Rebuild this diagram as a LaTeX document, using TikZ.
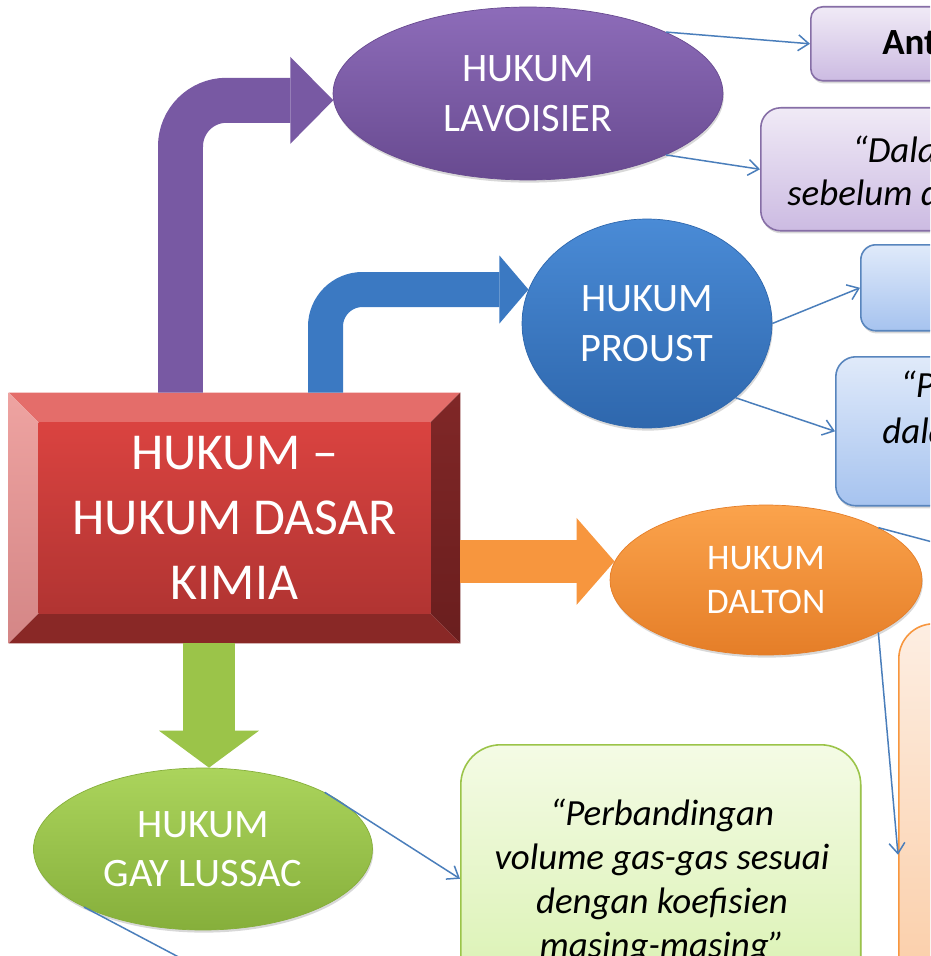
\documentclass[tikz,border=0pt]{standalone}
\usepackage{fontspec}
\setmainfont{Carlito}
\usetikzlibrary{shapes.geometric,arrows.meta,calc,backgrounds,shadows}

\definecolor{unguA}{HTML}{8D6CB9}
\definecolor{unguB}{HTML}{684A90}
\definecolor{ungu}{HTML}{7859A3}
\definecolor{biruA}{HTML}{4A8BD6}
\definecolor{biruB}{HTML}{2E67AD}
\definecolor{biru}{HTML}{3B79C2}
\definecolor{oranyeA}{HTML}{FBA34C}
\definecolor{oranyeB}{HTML}{E57E28}
\definecolor{oranye}{HTML}{F7963E}
\definecolor{hijauA}{HTML}{ABD45C}
\definecolor{hijauB}{HTML}{86AF3B}
\definecolor{hijau}{HTML}{9BC449}
\definecolor{merahA}{HTML}{DA4340}
\definecolor{merahB}{HTML}{B13432}
\definecolor{merahatas}{HTML}{E46D6A}
\definecolor{merahbawah}{HTML}{892826}
\definecolor{merahkiriA}{HTML}{EEA3A1}
\definecolor{merahkiriB}{HTML}{D48686}
\definecolor{merahkananA}{HTML}{802727}
\definecolor{merahkananB}{HTML}{6A1E1E}
\definecolor{garisbiru}{HTML}{4A7EBB}
\definecolor{kotakunguA}{HTML}{F0EAF6}
\definecolor{kotakunguB}{HTML}{CCBBE2}
\definecolor{kotakbiruA}{HTML}{E0EAFA}
\definecolor{kotakbiruB}{HTML}{A6C3EF}
\definecolor{kotakhijauA}{HTML}{F4FBE5}
\definecolor{kotakhijauB}{HTML}{D8F1AE}
\definecolor{kotakoranyeA}{HTML}{FDEEE2}
\definecolor{kotakoranyeB}{HTML}{FAC598}

\tikzset{
  bayang/.style={drop shadow={shadow xshift=0.5pt,shadow yshift=-1.5pt,opacity=0.3}},
  elip/.style={shape=ellipse,inner sep=0pt,text=white,align=center,line width=0.4pt,bayang},
  kotak/.style={shape=rectangle,anchor=north west,inner sep=0pt,line width=0.9pt,bayang},
  isi/.style={anchor=base west,inner sep=0pt,font=\fontsize{21}{25}\selectfont\itshape},
  garis/.style={color=garisbiru,line width=0.85pt,-{Straight Barb[length=6pt,width=9pt]}}
}

\begin{document}
\begin{tikzpicture}[x=0.02cm,y=-0.02cm]
\useasboundingbox (0,0) rectangle (930,956);
\clip (0,0) rectangle (930,956);

\node[shape=rectangle,minimum width=9.02cm,minimum height=5cm,inner sep=0pt,text=white,align=center,font=\fontsize{29.5}{36.8}\selectfont] (dasar) at (234.5,518) {HUKUM –\\HUKUM DASAR\\KIMIA};

\node[elip,minimum width=7.8cm,minimum height=3.46cm,top color=unguA,bottom color=unguB,draw=unguB,font=\fontsize{23}{28.5}\selectfont] (lav) at (528,93.5) {HUKUM\\LAVOISIER};
\node[elip,minimum width=5cm,minimum height=4.18cm,top color=biruA,bottom color=biruB,draw=biruB,font=\fontsize{23}{28.5}\selectfont] (prou) at (647,323.5) {HUKUM\\PROUST};
\node[elip,minimum width=6.24cm,minimum height=3cm,top color=oranyeA,bottom color=oranyeB,draw=oranyeB,font=\fontsize{20.5}{25.5}\selectfont] (dalt) at (766,580) {HUKUM\\DALTON};
\node[elip,minimum width=6.78cm,minimum height=3.24cm,top color=hijauA,bottom color=hijauB,draw=hijauB,font=\fontsize{23}{28}\selectfont] (gay) at (203,849) {HUKUM\\GAY LUSSAC};

\node[kotak,minimum width=5cm,minimum height=1.48cm,rounded corners=0.24cm,draw=unguB!80,top color=kotakunguA,bottom color=kotakunguB] (lav1) at (810,6) {};
\node[kotak,minimum width=6cm,minimum height=2.46cm,rounded corners=0.4cm,draw=unguB!80,top color=kotakunguA,bottom color=kotakunguB] (lav2) at (760,107) {};
\node[kotak,minimum width=4cm,minimum height=1.72cm,rounded corners=0.3cm,draw=biruB!80,top color=kotakbiruA,bottom color=kotakbiruB] (prou1) at (860,244) {};
\node[kotak,minimum width=5cm,minimum height=2.98cm,rounded corners=0.4cm,draw=biruB!80,top color=kotakbiruA,bottom color=kotakbiruB] (prou2) at (835,356) {};
\node[kotak,minimum width=6cm,minimum height=9.24cm,rounded corners=0.7cm,draw=oranye,top color=kotakoranyeA,bottom color=kotakoranyeB] (dalt1) at (898,623) {};
\node[kotak,minimum width=8cm,minimum height=5.36cm,rounded corners=0.8cm,draw=hijau,top color=kotakhijauA,bottom color=kotakhijauB] (gay1) at (460,744) {};

\node[anchor=base west,inner sep=0pt,font=\fontsize{21}{25}\selectfont\bfseries] (lav1teks) at (882,55) {Antoine};
\node[isi] (lav2teksa) at (852,163) {“Dalam};
\node[isi] (lav2teksb) at (787,206) {sebelum dan};
\node[isi] (prou2teksa) at (900,397) {“Perbandingan};
\node[isi] (prou2teksb) at (882,443) {dalam};
\node[isi,anchor=north,align=center] (gayteks) at (662,799) {“Perbandingan\\volume gas-gas sesuai\\dengan koefisien\\masing-masing”};

\coordinate (pu) at (180.5,0);
\coordinate (bi) at (325.5,0);
\coordinate (hi) at (209,0);
\coordinate (dalttuju) at (1000,560);
\coordinate (gaytuju) at (260,1000);

\path[garis] (lav.24) edge (lav1.west);
\path[garis] (lav.-24) edge (lav2.west);
\path[garis] (prou.east) edge (prou1.west);
\path[garis] (prou.-40) edge (prou2.west);
\path[garis] (dalt.25) edge (dalttuju);
\path[garis] (dalt.-25) edge (dalt1.west);
\path[garis] (gay.25) edge (gay1.west);
\path[garis] (gay.206) edge (gaytuju);

\begin{scope}[on background layer]
\fill[white] (0,0) rectangle (930,956);
\fill[merahatas] (dasar.north west) -- (dasar.north east) -- ($(dasar.north east)+(-30,30)$) -- ($(dasar.north west)+(30,30)$) -- cycle;
\shade[top color=merahkiriA,bottom color=merahkiriB] (dasar.north west) -- ($(dasar.north west)+(30,30)$) -- ($(dasar.south west)+(30,-30)$) -- (dasar.south west) -- cycle;
\shade[top color=merahkananA,bottom color=merahkananB] (dasar.north east) -- (dasar.south east) -- ($(dasar.south east)+(-30,-30)$) -- ($(dasar.north east)+(-30,30)$) -- cycle;
\fill[merahbawah] (dasar.south west) -- (dasar.south east) -- ($(dasar.south east)+(-30,-30)$) -- ($(dasar.south west)+(30,-30)$) -- cycle;
\shade[top color=merahA,bottom color=merahB] ($(dasar.north west)+(30,30)$) rectangle ($(dasar.south east)+(-30,-30)$);

\draw[ungu,line width=0.9cm,rounded corners=0.92cm,-{Triangle[length=0.86cm,width=1.74cm,line width=0pt]}] (pu |- dasar.north) |- (lav.182);
\draw[biru,line width=0.7cm,rounded corners=0.74cm,-{Triangle[length=0.58cm,width=1.36cm,line width=0pt]}] (bi |- dasar.north) |- (prou.164);
\draw[oranye,line width=0.86cm,-{Triangle[length=0.76cm,width=1.74cm,line width=0pt]}] (dasar.east |- dalt.173) -- (dalt.173);
\draw[hijau,line width=1.04cm,-{Triangle[length=0.74cm,width=2cm,line width=0pt]}] (hi |- dasar.south) -- (hi |- gay.north);
\end{scope}
\end{tikzpicture}
\end{document}
